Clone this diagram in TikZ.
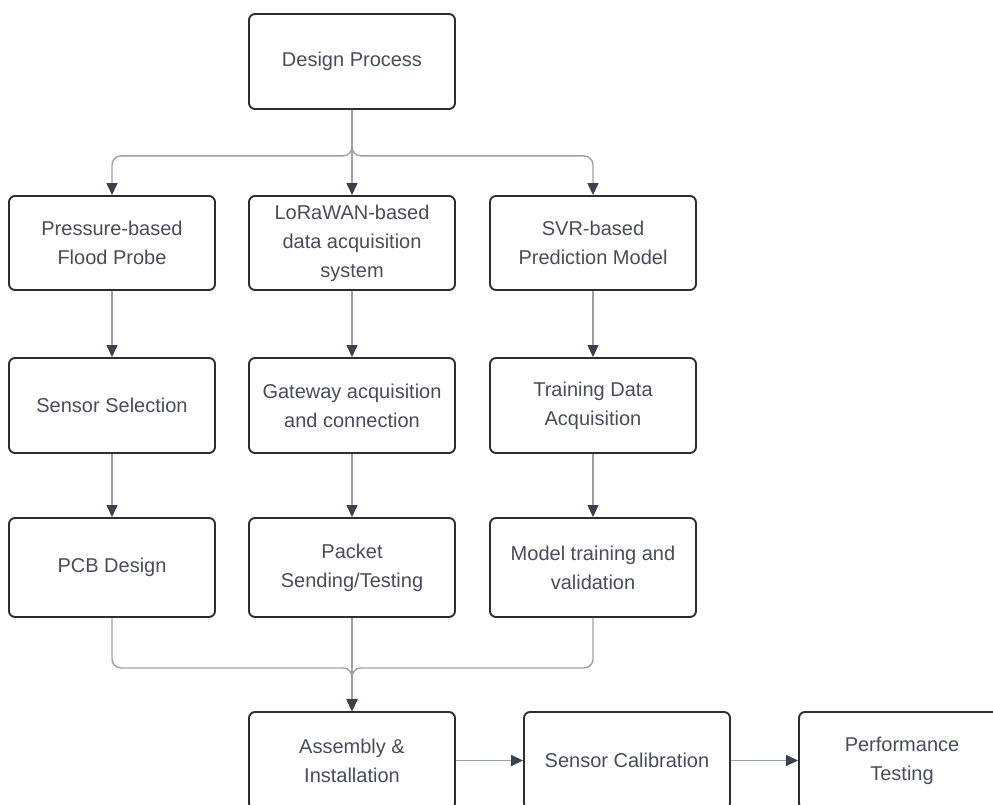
\documentclass[tikz,border=0pt]{standalone}
\usepackage{fontspec}
\setmainfont{Liberation Sans}
\usetikzlibrary{arrows.meta}
\definecolor{boxline}{HTML}{2E2E2E}
\definecolor{wirec}{HTML}{9CA1A9}
\definecolor{tipc}{HTML}{3B414D}
\definecolor{txt}{HTML}{474D59}
\begin{document}
\begin{tikzpicture}[x=1pt,y=-1pt,
  box/.style={draw=boxline, line width=1.9pt, rounded corners=6pt,
    minimum width=206pt, align=center, text=txt, fill=white,
    font=\fontsize{20}{29}\selectfont, inner sep=0pt},
  link/.style={draw=wirec, line width=1.4pt, rounded corners=9pt,
    -{Triangle[length=12pt,width=11pt,color=tipc]}}]
\useasboundingbox (0,0) rectangle (993,805);
\clip (0,0) rectangle (993,805);

% top of the process
\node[box, minimum height=95pt] (dp) at (352,61.5) {Design Process};

% three work streams
\node[box, minimum height=94pt] (pf)  at (112,243) {Pressure-based\\Flood Probe};
\node[box, minimum height=94pt] (lw)  at (352,243) {LoRaWAN-based\\data acquisition\\system};
\node[box, minimum height=94pt] (svr) at (593,243) {SVR-based\\Prediction Model};

\node[box, minimum height=95pt] (ss) at (112,405.5) {Sensor Selection};
\node[box, minimum height=95pt] (gw) at (352,405.5) {Gateway acquisition\\and connection};
\node[box, minimum height=95pt] (td) at (593,405.5) {Training Data\\Acquisition};

\node[box, minimum height=99pt] (pcb) at (112,567.5) {PCB Design};
\node[box, minimum height=99pt] (pk)  at (352,567.5) {Packet\\Sending/Testing};
\node[box, minimum height=99pt] (mt)  at (593,567.5) {Model training and\\validation};

% final stages
\node[box, minimum height=97pt] (asm)  at (352,760.5) {Assembly \&\\Installation};
\node[box, minimum height=97pt] (cal)  at (627,760.5) {Sensor Calibration};
\node[box, minimum height=97pt] (perf) at (902,760.5) {Performance\\Testing};

% split
\draw[link] (dp.south) -- ++(0,46) -| (pf.north);
\draw[link] (dp.south) -- ++(0,46) -| (svr.north);
\draw[link] (dp.south) -- (lw.north);

% columns
\draw[link] (pf.south) -- (ss.north);
\draw[link] (ss.south) -- (pcb.north);
\draw[link] (lw.south) -- (gw.north);
\draw[link] (gw.south) -- (pk.north);
\draw[link] (svr.south) -- (td.north);
\draw[link] (td.south) -- (mt.north);

% merge
\draw[link] (pcb.south) -- ++(0,50) -| (asm.north);
\draw[link] (mt.south) -- ++(0,50) -| (asm.north);
\draw[link] (pk.south) -- (asm.north);

% chain
\draw[link] (asm.east) -- (cal.west);
\draw[link] (cal.east) -- (perf.west);
\end{tikzpicture}
\end{document}
